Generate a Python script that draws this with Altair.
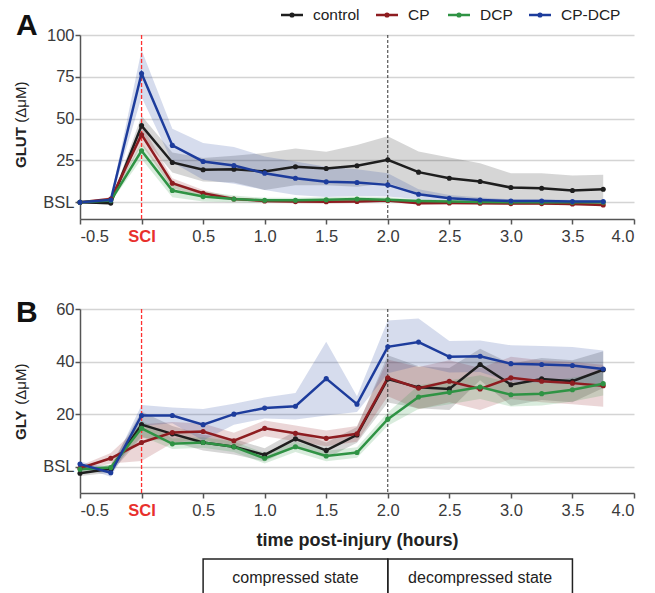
import altair as alt
import pandas as pd

# sampling times (hours after injury)
hours = [-0.5, -0.25, 0.0, 0.25, 0.5, 0.75, 1.0, 1.25, 1.5, 1.75,
         2.0, 2.25, 2.5, 2.75, 3.0, 3.25, 3.5, 3.75]
groups = ["control", "CP", "DCP", "CP-DCP"]
line_colors = ["#1e1e1e", "#8e1c20", "#2f9344", "#1d3c9c"]

# glutamate, change from baseline (mean and SEM, µM)
glut_control = [0, -0.5, 45.8, 23.8, 19.4, 19.8, 18.4, 21.2, 20.2, 21.8,
                25.4, 18.0, 14.4, 12.4, 8.8, 8.4, 7.0, 7.8]
glut_control_sem = [0.5, 1, 6, 6, 7, 8, 11, 11, 10, 12.5,
                    14, 12.4, 12.4, 11, 8.6, 9, 9, 8.6]
glut_cp = [0, 2.0, 40.4, 11.4, 5.4, 2.0, 0.8, 0.4, 0.3, 0.5,
           1.0, -0.6, -0.4, -0.6, -0.8, -0.8, -1.0, -1.6]
glut_cp_sem = [0.5, 1, 6, 3, 2, 1, 1, 1, 1, 1,
               1, 0.8, 0.8, 0.8, 0.8, 0.8, 0.8, 0.8]
glut_dcp = [0, 1.0, 30.8, 7.0, 3.4, 2.0, 1.2, 1.2, 1.5, 2.0,
            1.5, 0.8, 0.4, 0.2, 0.0, 0.0, 0.0, 0.0]
glut_dcp_sem = [0.5, 1, 5, 4, 3, 2, 1.5, 1.5, 1.5, 1.5,
                1.5, 1, 1, 1, 1, 1, 1, 1]
glut_cpdcp = [0, 1.4, 77.0, 34.0, 24.4, 22.0, 17.4, 14.4, 12.2, 11.8,
              10.4, 4.8, 2.4, 1.4, 0.8, 0.8, 0.4, 0.4]
glut_cpdcp_sem = [0.5, 1, 14, 10, 11, 11, 10, 10, 9, 8,
                  7, 3, 2, 1.5, 1, 1, 1, 1]

# glycine, change from baseline (mean and SEM, µM)
gly_control = [-2.5, -0.8, 16.0, 12.5, 9.2, 7.6, 4.5, 10.6, 6.2, 12.1,
               33.4, 30.2, 29.6, 38.9, 31.2, 33.4, 32.5, 36.9]
gly_control_sem = [1, 1.5, 5, 3, 3, 3, 2.5, 3, 3, 3,
                   9, 8, 8, 6, 8, 8, 8, 7]
gly_cp = [-0.6, 3.2, 9.2, 13.0, 13.4, 9.9, 14.6, 12.7, 10.8, 12.5,
          33.8, 29.9, 32.5, 29.6, 33.8, 32.5, 31.8, 30.8]
gly_cp_sem = [1, 2, 7, 4, 3, 3, 3, 3, 3, 3,
              7, 8, 8, 8, 8, 8, 8, 8]
gly_dcp = [-1.0, -0.3, 14.6, 8.7, 9.2, 7.6, 3.2, 7.6, 4.1, 5.4,
           18.1, 26.5, 28.3, 30.3, 27.4, 27.8, 29.3, 31.6]
gly_dcp_sem = [1, 1, 3, 2, 2, 2, 2, 2, 2, 2,
               2.5, 4.5, 4.5, 4.5, 4.5, 4.5, 4.5, 4.5]
gly_cpdcp = [1.0, -2.3, 19.5, 19.5, 16.0, 20.0, 22.3, 23.0, 33.5, 23.8,
             45.6, 47.4, 41.8, 42.0, 39.2, 38.9, 38.5, 37.2]
gly_cpdcp_sem = [1, 1.5, 4, 3, 6, 4, 4, 5, 14, 3,
                 10, 9, 6, 6, 7, 7, 7, 7]

# x-axis ticks and the compression phases shown beneath the time axis
x_ticks = [-0.5, 0.0, 0.5, 1.0, 1.5, 2.0, 2.5, 3.0, 3.5, 4.0]
glut_ticks = [0, 25, 50, 75, 100]
gly_ticks = [0, 20, 40, 60]
states = ["compressed state", "decompressed state"]
state_start = [0.5, 2.0]
state_end = [2.0, 3.5]

W, H = 554, 184
FONT = "Liberation Sans"
hex_of = dict(zip(groups, line_colors))

# legend layout (pixels from the left edge of the top plot)
legend_entry_x = [201, 296, 368, 449]
legend_swatch_w = 22
legend_label_gap = 10
legend_row_y = -20


def long_table(means, sems):
    rows = []
    for g, m, s in zip(groups, means, sems):
        for t, v, e in zip(hours, m, s):
            rows.append({"t": t, "group": g, "hex": hex_of[g],
                         "mean": v, "lo": v - e, "hi": v + e})
    return pd.DataFrame(rows)


def legend_layers():
    ldf = pd.DataFrame({
        "group": groups,
        "hex": line_colors,
        "sx": legend_entry_x,
        "sx2": [v + legend_swatch_w for v in legend_entry_x],
        "cx": [v + legend_swatch_w / 2 for v in legend_entry_x],
        "lx": [v + legend_swatch_w + legend_label_gap for v in legend_entry_x],
    })
    base = alt.Chart(ldf)
    swatch = base.mark_rule(strokeWidth=2.5).encode(
        x=alt.X("sx:Q", scale=None), x2="sx2:Q", y=alt.value(legend_row_y),
        color=alt.Color("hex:N", scale=None),
    )
    dot = base.mark_point(filled=True, size=26, opacity=1).encode(
        x=alt.X("cx:Q", scale=None), y=alt.value(legend_row_y),
        color=alt.Color("hex:N", scale=None),
    )
    label = base.mark_text(
        fontSize=15.5, align="left", baseline="middle", font=FONT, color="#222"
    ).encode(x=alt.X("lx:Q", scale=None), y=alt.value(legend_row_y), text="group:N")
    return [swatch, dot, label]


def panel(df, letter, name, ymax, yticks, show_title):
    x = alt.X(
        "t:Q",
        scale=alt.Scale(domain=[-0.5, 4.0], nice=False, zero=False),
        axis=alt.Axis(
            values=x_ticks,
            labelExpr="datum.value == 0 ? 'SCI' : (datum.value < 0 ? '-' : '') + format(abs(datum.value), '.1f')",
            labelColor={"condition": {"test": "datum.value == 0", "value": "#e8302c"},
                        "value": "#3a3a3a"},
            labelFontWeight={"condition": {"test": "datum.value == 0", "value": "bold"},
                             "value": "normal"},
            grid=False, tickSize=5, labelPadding=4,
            title="time post-injury (hours)" if show_title else None,
            titlePadding=13,
        ),
    )
    yscale = alt.Scale(domain=[-10, ymax], nice=False, zero=False)
    yaxis = alt.Axis(
        values=yticks,
        labelExpr="datum.value == 0 ? 'BSL' : datum.label",
        grid=True, tickSize=5, labelPadding=1, title=None,
        minExtent=38, maxExtent=38,
    )
    base = alt.Chart(df)
    bands = base.mark_area(opacity=0.18).encode(
        x=x, y=alt.Y("lo:Q", scale=yscale, axis=yaxis), y2="hi:Q",
        color=alt.Color("hex:N", scale=None),
        detail="group:N",
    )
    lines = base.mark_line(strokeWidth=2.5).encode(
        x="t:Q", y="mean:Q",
        color=alt.Color("hex:N", scale=None),
        detail="group:N",
    )
    points = base.mark_point(filled=True, size=26, opacity=1).encode(
        x="t:Q", y="mean:Q",
        color=alt.Color("hex:N", scale=None),
        detail="group:N",
    )
    # injury onset (red) and decompression (black) markers
    sci = alt.Chart(pd.DataFrame({"t": [0.0]})).mark_rule(
        color="#ff3030", strokeDash=[4, 2], strokeWidth=1.3, opacity=1
    ).encode(x="t:Q")
    release = alt.Chart(pd.DataFrame({"t": [2.0]})).mark_rule(
        color="#333333", strokeDash=[3, 2], strokeWidth=1
    ).encode(x="t:Q")
    tag = alt.Chart(pd.DataFrame({"p": [letter]})).mark_text(
        fontSize=30, fontWeight="bold", align="left", baseline="alphabetic",
        font=FONT, color="#111",
    ).encode(text="p:N", x=alt.value(-64), y=alt.value(0 if letter == "A" else 13))
    # y title: bold analyte name followed by regular unit
    title_y = 133 if letter == "A" else 131
    name_w = 40.8 if letter == "A" else 30.8
    t_name = alt.Chart(pd.DataFrame({"w": [name]})).mark_text(
        fontSize=15, fontWeight="bold", angle=270, align="left",
        baseline="alphabetic", font=FONT, color="#222",
    ).encode(text="w:N", x=alt.value(-54), y=alt.value(title_y))
    t_unit = alt.Chart(pd.DataFrame({"w": ["(ΔμM)"]})).mark_text(
        fontSize=15, angle=270, align="left",
        baseline="alphabetic", font=FONT, color="#222",
    ).encode(text="w:N", x=alt.value(-54), y=alt.value(title_y - name_w - 4.5))
    layers = [bands, sci, release, lines, points, tag, t_name, t_unit]
    if show_title:
        sdf = pd.DataFrame({"state": states, "start": state_start, "end": state_end})
        box = alt.Chart(sdf).mark_rect(
            fill="white", fillOpacity=0, stroke="#222", strokeWidth=1.5
        ).encode(x="start:Q", x2="end:Q", y=alt.value(250), y2=alt.value(300))
        lab = alt.Chart(sdf).transform_calculate(
            mid="(datum.start + datum.end) / 2"
        ).mark_text(fontSize=16, baseline="alphabetic", font=FONT, color="#222").encode(
            x="mid:Q", text="state:N", y=alt.value(274)
        )
        layers += [box, lab]
    else:
        layers += legend_layers()
    return alt.layer(*layers).properties(width=W, height=H)


glut_df = long_table([glut_control, glut_cp, glut_dcp, glut_cpdcp],
                     [glut_control_sem, glut_cp_sem, glut_dcp_sem, glut_cpdcp_sem])
gly_df = long_table([gly_control, gly_cp, gly_dcp, gly_cpdcp],
                    [gly_control_sem, gly_cp_sem, gly_dcp_sem, gly_cpdcp_sem])

top = panel(glut_df, "A", "GLUT", 100, glut_ticks, False)
bottom = panel(gly_df, "B", "GLY", 60, gly_ticks, True)

chart = alt.vconcat(top, bottom, spacing=90, bounds="flush").properties(
    padding={"left": 13, "top": 8, "right": 5, "bottom": 5}
).configure(font=FONT).configure_axis(
    labelFont=FONT, labelFontSize=16.5, labelColor="#3a3a3a",
    domainColor="#555", domainWidth=1.5, tickColor="#555", tickWidth=1.5,
    gridColor="#d4d4d4", gridWidth=1.5,
    titleFont=FONT, titleFontSize=18, titleFontWeight="bold", titleColor="#222",
).configure_view(stroke=None)

chart.save("out.html", embed_options={"renderer": "svg", "actions": False})
